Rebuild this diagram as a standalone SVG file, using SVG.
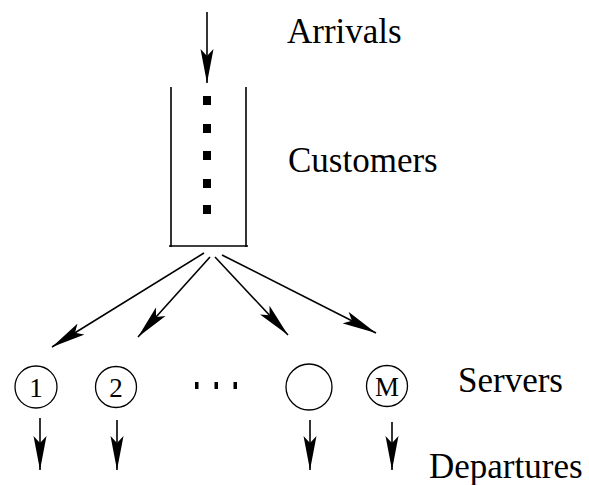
<svg xmlns="http://www.w3.org/2000/svg" width="589" height="485" viewBox="0 0 589 485">
<defs>
<marker id="ah" markerUnits="userSpaceOnUse" markerWidth="36" markerHeight="14" viewBox="-34 -7 36 14" refX="0" refY="0" orient="auto">
<path d="M0,0 L-34,-6.5 L-27,0 L-34,6.5 Z" fill="#000"/>
</marker>
<style>
.ln{stroke:#000;stroke-width:1.6;fill:none}
.arr{stroke:#000;stroke-width:1.6;fill:none;marker-end:url(#ah)}
.srv{stroke:#000;stroke-width:1.3;fill:#fff}
.lbl{font-family:"Liberation Serif","Times New Roman",serif;font-size:35px;fill:#000}
.num{font-family:"Liberation Serif","Times New Roman",serif;font-size:27px;fill:#000;text-anchor:middle}
.dot{fill:#000}
</style>
</defs>
<rect width="589" height="485" fill="#fff"/>
<g id="queue">
<path class="ln" d="M171,87 V247 M246,87 V247 M169,246 H248"/>
<rect class="dot" x="203" y="96" width="8" height="9"/>
<rect class="dot" x="203" y="124" width="8" height="9"/>
<rect class="dot" x="203" y="151" width="8" height="9"/>
<rect class="dot" x="203" y="179" width="8" height="9"/>
<rect class="dot" x="203" y="205" width="8" height="9"/>
</g>
<g id="server1">
<circle class="srv" cx="36" cy="387" r="21"/>
<text class="num" x="36" y="396.5">1</text>
</g>
<g id="server2">
<circle class="srv" cx="116" cy="387" r="20.5"/>
<text class="num" x="116" y="396.5">2</text>
</g>
<g id="ellipsis">
<rect class="dot" x="195" y="382" width="3.5" height="7"/>
<rect class="dot" x="214.5" y="382" width="3.5" height="7"/>
<rect class="dot" x="233.5" y="382" width="3.5" height="7"/>
</g>
<g id="server3">
<circle class="srv" cx="309" cy="387" r="23"/>
</g>
<g id="serverM">
<circle class="srv" cx="387" cy="386" r="20.5"/>
<text class="num" x="387" y="395.5">M</text>
</g>
<g id="labels">
<text class="lbl" x="287" y="43">Arrivals</text>
<text class="lbl" x="288" y="172">Customers</text>
<text class="lbl" x="458" y="392">Servers</text>
<text class="lbl" x="429" y="478">Departures</text>
</g>
<g id="connectors">
<line class="arr" x1="207" y1="12" x2="207" y2="83"/>
<line class="arr" x1="204" y1="253" x2="52" y2="347"/>
<line class="arr" x1="210" y1="257" x2="138" y2="337"/>
<line class="arr" x1="215" y1="257" x2="288" y2="335"/>
<line class="arr" x1="222" y1="255" x2="376" y2="333"/>
<line class="arr" x1="40" y1="418" x2="40" y2="470"/>
<line class="arr" x1="117" y1="420" x2="117" y2="470"/>
<line class="arr" x1="310" y1="420" x2="310" y2="470"/>
<line class="arr" x1="392" y1="422" x2="392" y2="470"/>
</g>
</svg>
